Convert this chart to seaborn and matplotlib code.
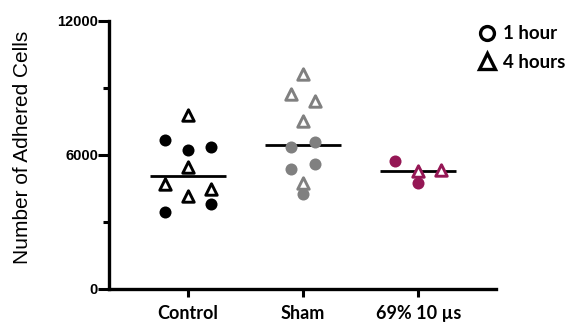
import numpy as np
import pandas as pd
import matplotlib
matplotlib.use("Agg")
import matplotlib.pyplot as plt
from matplotlib.lines import Line2D
from matplotlib.ticker import FixedLocator
import seaborn as sns

# Adhered cell counts per group, split by incubation time
groups = ["Control", "Sham", "69% 10 µs"]
control_1h = [6670, 6220, 6360, 3810, 3450]
control_4h = [7790, 5460, 4700, 4170, 4480]
sham_1h = [6360, 6580, 5370, 5600, 4250]
sham_4h = [9630, 8730, 8420, 7520, 4750]
pulse_1h = [5730, 4750]
pulse_4h = [5280, 5330]
times = ["1 hour", "4 hours"]
y_ticks = [0, 6000, 12000]

# column-scatter lane of each point (left / centre / right of its group)
lanes_control_1h = [-1, 0, 1, 1, -1]
lanes_control_4h = [0, 0, -1, 0, 1]
lanes_sham_1h = [-0.5, 0.5, -0.5, 0.5, 0]
lanes_sham_4h = [0, -0.5, 0.5, 0, 0]
lanes_pulse_1h = [-1, 0]
lanes_pulse_4h = [0, 1]

colors = {"Control": "#000000", "Sham": "#808080", "69% 10 µs": "#951755"}

rows = []
series = [
    ("Control", "1 hour", control_1h, lanes_control_1h),
    ("Control", "4 hours", control_4h, lanes_control_4h),
    ("Sham", "1 hour", sham_1h, lanes_sham_1h),
    ("Sham", "4 hours", sham_4h, lanes_sham_4h),
    ("69% 10 µs", "1 hour", pulse_1h, lanes_pulse_1h),
    ("69% 10 µs", "4 hours", pulse_4h, lanes_pulse_4h),
]
for g, t, vals, lanes in series:
    for v, ln in zip(vals, lanes):
        rows.append({"group": g, "time": t, "value": v,
                     "x": groups.index(g) + 0.2 * ln})
df = pd.DataFrame(rows)

sns.set_style("ticks")
plt.rcParams.update({"text.color": "black", "axes.labelcolor": "black",
                     "xtick.color": "black", "ytick.color": "black",
                     "axes.edgecolor": "black"})
fig = plt.figure(figsize=(5.71, 3.23), dpi=100)
ax = fig.add_axes([109 / 571, 1 - 289 / 323, 387 / 571, 268 / 323])

# median line per group
sns.boxplot(data=df, x="group", y="value", order=groups, ax=ax,
            width=0.66, showbox=False, showcaps=False, showfliers=False,
            whiskerprops={"visible": False},
            medianprops={"color": "black", "linewidth": 2})

lw_marker = 2.1
for g in groups:
    c = colors[g]
    d1 = df[(df.group == g) & (df.time == "1 hour")]
    d4 = df[(df.group == g) & (df.time == "4 hours")]
    sns.scatterplot(data=d1, x="x", y="value", ax=ax, marker="o", s=75,
                    color=c, edgecolor=c, linewidth=0, zorder=3)
    sns.scatterplot(data=d4, x="x", y="value", ax=ax, marker="^", s=68,
                    color=c, facecolor="white", edgecolor=c,
                    linewidth=lw_marker, zorder=3)

ax.set_xlim(-0.684, 2.675)
ax.set_ylim(0, 12000)
ax.set_xticks(range(len(groups)))
ax.set_xticklabels(groups, fontfamily="Lato", fontweight="bold", fontsize=13)
ax.set_yticks(y_ticks)
ax.set_yticklabels([str(v) for v in y_ticks], fontfamily="Liberation Sans",
                   fontweight="bold", fontsize=10.5)
ax.yaxis.set_minor_locator(FixedLocator([3000, 9000]))
ax.set_xlabel("")
ax.set_ylabel("Number of Adhered Cells", fontfamily="Liberation Sans",
              fontsize=15)
ax.yaxis.set_label_coords(-0.2, 0.53)

for side in ["top", "right"]:
    ax.spines[side].set_visible(False)
for side in ["left", "bottom"]:
    ax.spines[side].set_linewidth(2.4)
ax.tick_params(axis="y", which="major", length=8, width=2.2, pad=0)
ax.tick_params(axis="y", which="minor", length=4.5, width=2.2)
ax.tick_params(axis="x", which="major", length=6, width=2.2, pad=5.5)

handles = [
    Line2D([], [], linestyle="none", marker="o", markersize=10,
           markerfacecolor="white", markeredgecolor="black",
           markeredgewidth=2.4),
    Line2D([], [], linestyle="none", marker="^", markersize=11,
           markerfacecolor="white", markeredgecolor="black",
           markeredgewidth=2.4),
]
fig.legend(handles, times, loc="center left",
           bbox_to_anchor=(466 / 571, 1 - 48 / 323), frameon=False,
           prop={"family": "Lato", "weight": "bold", "size": 13.5},
           handletextpad=0.25, labelspacing=0.6, handlelength=1.2,
           borderpad=0)

fig.savefig("out.png", dpi=100, facecolor="white")
